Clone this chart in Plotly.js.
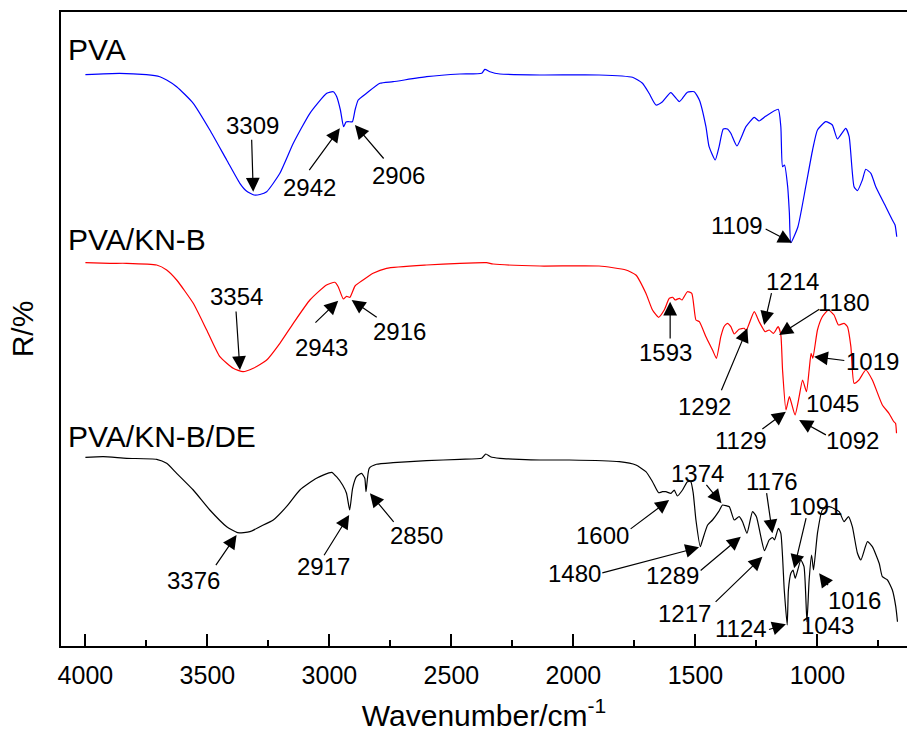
<!DOCTYPE html>
<html>
<head>
<meta charset="utf-8">
<script src="https://cdn.plot.ly/plotly-3.0.1.min.js"></script>
<style>
  html, body { margin: 0; padding: 0; background: #fff; }
  #chart { width: 907px; height: 736px; }
</style>
</head>
<body>
<div id="chart"></div>
<script>
// FTIR spectra of PVA, PVA/KN-B and PVA/KN-B/DE films, stacked with vertical offsets.
// Wavenumbers in cm-1, R in arbitrary offset units.

const pvaWn = [4000,3860,3750,3695,3667,3626,3558,3490,3421,3367,3340,3309,3285,3257,3203,3148,3080,3011,2984,2970,2955,2942,2932,2923,2906,2895,2882,2848,2793,2739,2602,2465,2376,2363,2342,2301,2137,1895,1758,1717,1690,1662,1635,1601,1566,1553,1533,1505,1484,1457,1444,1419,1403,1386,1369,1355,1330,1293,1259,1239,1211,1161,1150,1143,1135,1122,1115,1109,1080,1048,1020,1000,966,939,918,884,870,850,836,816,802,781,761,720,693,682,675];
const pvaR = [571.3,572.7,571.3,569.3,566,559.3,542.7,516,486,462.7,455,451,451.5,454.3,472.7,502.7,532.7,552.7,554.3,549.3,536,519.3,524,524.3,524.3,536,546,552.7,562.7,564.3,569.3,572,572.7,576.7,574.3,572,571,571,568.7,562.7,552.7,541,544.3,553.3,544.3,547.7,553.7,554.3,546,519.3,499.3,486,499.3,517,517,512.7,500,519.3,528.7,525,530,536.7,519.3,479.3,481,459.3,433,403.3,419.3,459.3,496,516,524.3,521,507,517.7,509.3,459.3,455.3,466,476.7,472.7,459.3,439.3,426,421,409.3];

const kbWn = [4000,3900,3831,3708,3667,3626,3558,3503,3449,3394,3354,3312,3257,3203,3148,3080,3012,2978,2964,2943,2930,2916,2895,2862,2821,2766,2602,2465,2356,2329,2137,1895,1785,1744,1703,1676,1651,1628,1607,1593,1583,1566,1555,1533,1515,1498,1484,1457,1430,1414,1396,1383,1369,1355,1341,1321,1300,1292,1259,1239,1214,1198,1180,1161,1150,1143,1129,1115,1092,1075,1061,1045,1034,1026,1019,1000,980,955,932,914,891,877,863,850,830,802,775,734,707,687,680,676];
const kbR = [383.3,382.7,382.7,381,376,366,342.7,316,289.3,277.7,274.3,277.7,286,302.7,322.7,346,361,363.7,359.3,347,349.7,348.7,360,366,372.7,377.7,381,382.7,383.3,382,380,380,376,371,352.7,336,328.7,336,347.7,348.7,346,347.7,346,354.3,352.7,326,324.3,309.3,296,287.7,309.3,319.3,322.7,319.3,312,316.7,317.7,315.3,334.3,324.3,314.3,316,312.7,319.3,311,276,236,249.3,231,249.3,266,254.3,276,292.7,287.7,316,329.3,336,331,321,322.7,319.3,299.3,262.7,266,276,266,241,232.7,224.3,222.7,212.7];

const deWn = [4000,3927,3831,3708,3667,3626,3558,3490,3421,3376,3326,3285,3230,3176,3121,3053,2991,2971,2946,2930,2917,2905,2889,2868,2855,2850,2837,2807,2739,2602,2465,2376,2359,2340,2301,2222,2137,2017,1812,1744,1703,1676,1651,1635,1621,1600,1587,1574,1553,1533,1519,1509,1498,1480,1471,1450,1430,1405,1389,1374,1361,1341,1321,1307,1289,1266,1250,1232,1217,1198,1184,1176,1160,1150,1136,1124,1119,1109,1100,1091,1068,1055,1043,1034,1024,1016,1000,980,952,911,891,873,857,836,822,795,775,747,734,713,693,679,672];
const deR = [188.7,189.3,187.7,186.7,182.7,172.7,156,136,119.3,113.3,114.3,119.3,126,139.3,156,167.7,173.7,169.3,161,152.7,136,157.7,169.3,172.7,167.7,154.3,177.7,181.7,183.3,185.3,186.7,187.7,192,189.3,187.7,186.7,186,186,184.3,181,174.3,164.3,153.3,154.3,154.3,152.7,156,150,156,164.3,164.3,152.7,126,99.3,106,121,126,134.3,141,140.3,139.3,126,129.3,124.3,112.7,134.3,129.3,109.3,95.3,106,108.5,106,117.7,112.7,56,21,56,72.7,76,67.7,86,79.3,24.3,66,91,76,112.7,136,139.3,134.3,124.3,129.3,119.3,92.7,86,104.3,99.3,82.7,69.3,66,56,39.3,24.3];

// Assigned band positions (cm-1)
const pvaPeaks = [3309, 2942, 2906, 1109];
const kbPeaks = [3354, 2943, 2916, 1593, 1292, 1214, 1180, 1019, 1045, 1129, 1092];
const dePeaks = [3376, 2917, 2850, 1600, 1374, 1480, 1289, 1176, 1217, 1124, 1091, 1043, 1016];

const seriesNames = ['PVA', 'PVA/KN-B', 'PVA/KN-B/DE'];
const xTicks = [4000, 3500, 3000, 2500, 2000, 1500, 1000];
const xMinorTicks = [3750, 3250, 2750, 2250, 1750, 1250, 750];

// ---- layout geometry ----
const W = 907, H = 736;
const M = { l: 61, r: 0, t: 12, b: 90 };
const xRange = [4100, 633];
const yRange = [0, 634];
const plotW = W - M.l - M.r, plotH = H - M.t - M.b;
const cmPerPx = (xRange[0] - xRange[1]) / plotW;
const rPerPx = (yRange[1] - yRange[0]) / plotH;
const FONT = 'Liberation Sans, Arial, Helvetica, sans-serif';

// linear interpolation on a descending wavenumber grid
function valueAt(wn, r, v) {
  for (let i = 0; i < wn.length - 1; i++) {
    if (v <= wn[i] && v >= wn[i + 1]) {
      const t = (wn[i] - v) / (wn[i] - wn[i + 1]);
      return r[i] + t * (r[i + 1] - r[i]);
    }
  }
  return r[r.length - 1];
}

// Label placement, pixel offsets from the band point:
// tip = arrow head, tail = arrow start, text = label centre (no tip -> plain label)
const pvaPlace = {
  3309: { tip: [-0.8, -3.3], tail: [-2.4, -56.7], text: [-2, -70] },
  2942: { tip: [-3.7, 1.6], tail: [-35.4, 45], text: [-33.7, 61] },
  2906: { tip: [2.6, 3.3], tail: [32.6, 38.3], text: [45.9, 53.3] },
  1109: { tip: [1, 0], tail: [-26.7, -14.4], text: [-53.4, -17.7] }
};
const kbPlace = {
  3354: { tip: [-3.1, -1.7], tail: [-7.1, -61.7], text: [-6.4, -75] },
  2943: { tip: [-5.1, 1.7], tail: [-29.4, 25], text: [-21.7, 48.4] },
  2916: { tip: [1.7, 2.7], tail: [28.3, 21], text: [50, 34.4] },
  1593: { tip: [-2.6, 4.4], tail: [-2.6, 42.7], text: [-6.9, 55.4] },
  1292: { tip: [1.2, -2.4], tail: [-25.4, 61], text: [-42.1, 76] },
  1214: { tip: [-1.1, -6.7], tail: [6.6, -40], text: [27.2, -50] },
  1180: { tip: [5.6, 1.7], tail: [47.3, -25], text: [70.6, -30.6] },
  1019: { tip: [1.3, -1.6], tail: [33, 2.4], text: [59.6, 3.4] },
  1045: { text: [26, 11.6] },
  1129: { tip: [-0.1, 1.7], tail: [-25.1, 20], text: [-45.1, 30] },
  1092: { tip: [4.1, 5], tail: [32.4, 20.7], text: [57.4, 25] }
};
const dePlace = {
  3376: { tip: [-1.1, 2.3], tail: [-22.8, 34], text: [-44.5, 47.3] },
  2917: { tip: [-0.5, 5], tail: [-26.5, 46.7], text: [-26.5, 56.7] },
  2850: { tip: [3.9, 1.6], tail: [28.9, 31.6], text: [50.6, 43.3] },
  1600: { tip: [-1.9, 6.7], tail: [-41.9, 36.7], text: [-68.6, 41.7] },
  1374: { tip: [-4.7, -2.4], tail: [-21, -22.4], text: [-28.7, -32.4] },
  1480: { tip: [-1.2, 0.6], tail: [-99.5, 26.6], text: [-126.2, 26.6] },
  1289: { tip: [-6.1, 3.4], tail: [-47.8, 38.4], text: [-74.5, 41.7] },
  1176: { tip: [-2.1, -6.7], tail: [-8.1, -48.3], text: [-2.1, -58.3] },
  1217: { tip: [-2.1, 6], tail: [-50.4, 52.6], text: [-80.4, 62.6] },
  1124: { tip: [-1.3, -0.7], tail: [-19.7, 5], text: [-46.3, 3.3] },
  1091: { tip: [-1.1, -10], tail: [11.2, -61.6], text: [20.6, -71.6] },
  1043: { text: [20.5, 3.3] },
  1016: { tip: [5.6, 3.3], tail: [15.6, 16.7], text: [40.6, 30] }
};

const series = [
  { name: seriesNames[0], wn: pvaWn, r: pvaR, color: '#0000ff', peaks: pvaPeaks, place: pvaPlace, labelY: 597 },
  { name: seriesNames[1], wn: kbWn, r: kbR, color: '#ff0000', peaks: kbPeaks, place: kbPlace, labelY: 407 },
  { name: seriesNames[2], wn: deWn, r: deR, color: '#000000', peaks: dePeaks, place: dePlace, labelY: 210 }
];

const traces = series.map(s => ({
  x: s.wn, y: s.r, type: 'scatter', mode: 'lines', name: s.name,
  line: { color: s.color, width: 1.2, shape: 'spline', smoothing: 0.5 }, hoverinfo: 'x+y'
}));

const annotations = [];
series.forEach(s => {
  // curve name at the left of each spectrum
  annotations.push({
    x: 4080, y: s.labelY, xref: 'x', yref: 'y', text: s.name, showarrow: false,
    xanchor: 'left', yanchor: 'middle', font: { family: FONT, size: 30, color: '#000' }
  });
  s.peaks.forEach(v => {
    const p = s.place[v];
    const y0 = valueAt(s.wn, s.r, v);
    const toX = dx => v - dx * cmPerPx;
    const toY = dy => y0 - dy * rPerPx;
    annotations.push({
      x: toX(p.text[0]), y: toY(p.text[1]), xref: 'x', yref: 'y',
      text: String(v), showarrow: false, xanchor: 'center', yanchor: 'middle',
      font: { family: FONT, size: 24, color: '#000' }
    });
    if (p.tip) {
      annotations.push({
        x: toX(p.tip[0]), y: toY(p.tip[1]), xref: 'x', yref: 'y',
        ax: p.tail[0] - p.tip[0], ay: p.tail[1] - p.tip[1], axref: 'pixel', ayref: 'pixel',
        text: '', showarrow: true, arrowhead: 2, arrowsize: 2.3, arrowwidth: 1.2,
        arrowcolor: '#000', standoff: 0, startstandoff: 0
      });
    }
  });
});

const layout = {
  width: W, height: H,
  margin: M,
  paper_bgcolor: '#fff', plot_bgcolor: '#fff',
  showlegend: false,
  font: { family: FONT, color: '#000' },
  xaxis: {
    range: xRange,
    tickmode: 'array', tickvals: xTicks, ticktext: xTicks.map(String),
    ticks: 'inside', ticklen: 12, tickwidth: 2, tickcolor: '#000',
    minor: { tickmode: 'array', tickvals: xMinorTicks, ticks: 'inside', ticklen: 6, tickwidth: 2, tickcolor: '#000' },
    showline: true, linewidth: 2, linecolor: '#000', mirror: true,
    showgrid: false, zeroline: false,
    tickfont: { family: FONT, size: 25, color: '#000' },
    ticklabelstandoff: 6,
    title: { text: 'Wavenumber/cm<sup>-1</sup>', font: { family: FONT, size: 30, color: '#000' }, standoff: 17 }
  },
  yaxis: {
    range: yRange,
    showline: true, linewidth: 2, linecolor: '#000',
    ticks: '', showticklabels: false, showgrid: false, zeroline: false,
    title: { text: 'R/%', font: { family: FONT, size: 30, color: '#000' }, standoff: 17 }
  },
  annotations: annotations
};

Plotly.newPlot('chart', traces, layout, { displayModeBar: false, staticPlot: true });
</script>
</body>
</html>
